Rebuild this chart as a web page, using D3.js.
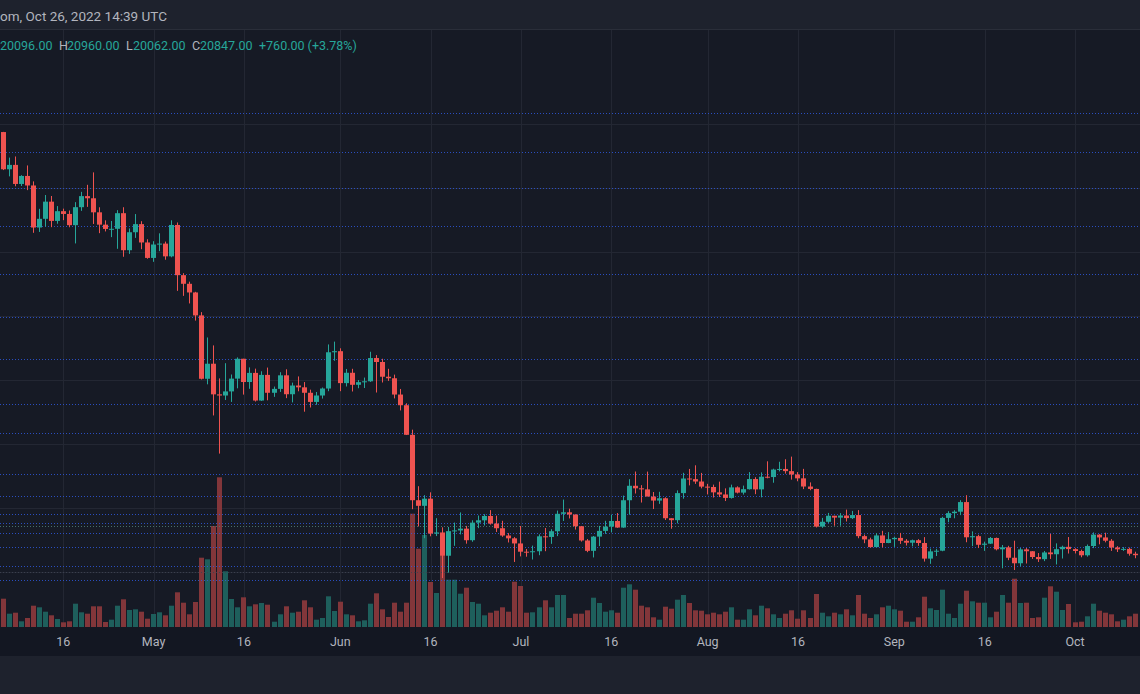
<!DOCTYPE html>
<html><head><meta charset="utf-8">
<script src="https://cdn.jsdelivr.net/npm/d3@7"></script>
<style>html,body{margin:0;padding:0;background:#161a25;overflow:hidden}text{font-family:Roboto,"Liberation Sans",sans-serif}</style>
</head><body><svg id="chart" width="1140" height="694"></svg>
<script>
// ---------------- DATA (BTC daily, 2022-04-06 .. 2022-10-11) ----------------
const firstDay = "2022-04-06";
const opens = [
 45497,43170,43444,42252,42753,42158,39530,40074,41147,39942,40551,40378,39678,40801,41493,41358,40480,39709,39441,39450,40426,38112,39235,39742,38596,
 37630,38468,38525,37728,39690,36552,36013,35472,34038,30076,31017,29103,29030,29287,30086,31328,29874,30444,28715,30319,29201,29445,30293,29110,29655,29542,29201,28630,29031,29468,31734,
 31801,29805,30452,29700,29865,29919,31373,31125,30204,30109,29091,28424,26574,22487,22136,22583,20401,20471,19017,20553,20599,20710,19987,21085,21231,21502,21027,20735,20280,20104,
 19785,19269,19243,19297,20231,20190,20548,21637,21731,21592,20860,19970,19323,20212,20569,20836,21190,20779,22485,23389,23231,23164,22714,22465,22609,21361,21239,22930,23843,23804,23656,
 23336,23314,22978,22846,22630,23289,22961,23175,23810,23164,23954,23934,24403,24441,24305,24094,23854,23342,23191,20834,21140,21515,21399,21528,21368,21559,20241,20037,19555,20285,19812,
 20050,20131,19951,19831,19986,19812,18837,19290,19329,21381,21680,21769,22370,20170,20240,19701,19772,20127,19419,19544,18891,18547,19413,19297,18937,18802,19222,19110,19426,19573,
 19431,19312,19044,19623,20336,20160,19955,19531,19417,19446,19141
];
const highs = [
 45507,43900,43970,42800,43410,42414,40699,41561,41500,40870,40709,40595,41116,41760,42199,42976,40795,39980,39940,40616,40797,39474,40372,39925,38795,
 38675,39167,38651,39980,39845,36675,36146,35510,34243,32658,32162,30100,31050,30343,31414,31328,30788,30709,30545,30777,29589,30487,30670,29835,30223,29872,29397,29250,29530,32222,32399,
 31982,30690,30700,29998,30152,31765,31557,31327,30700,30336,29440,28544,26895,23362,22800,22980,21365,20792,20815,21090,21723,20880,21233,21530,21614,21868,21520,21200,20432,20180,
 20876,19438,19650,20354,20750,20675,21838,22527,21956,21600,20878,20060,20250,20880,21200,21588,21685,22777,23800,24280,23427,24276,23000,23014,22667,21361,23100,24200,24442,24668,24194,
 23509,23460,23647,23227,23460,23354,23400,24245,23925,24226,24918,24456,24890,25047,25211,24247,24446,23600,23208,21382,21692,21515,21680,21900,21819,21868,20341,20147,20433,20575,20490,
 20208,20444,20054,20029,20055,20180,19464,19450,21450,21800,21860,22488,22799,20540,20330,19897,20190,20152,19686,19636,19956,19500,19500,19310,19185,19315,20385,19790,19645,20185,
 19485,19395,19719,20475,20365,20456,20058,19615,19558,19525,19268
];
const lows = [
 43121,42727,42107,42125,41868,39200,39254,39588,39551,39766,39991,39546,38536,40571,40820,39751,39177,39285,38929,38200,37702,37881,38881,38175,37578,
 37386,38052,37517,37670,35571,35258,34785,33713,30033,29730,27785,25400,28751,28630,29480,29087,29450,28654,28691,28730,28947,29255,28866,28600,29294,28019,28282,28450,28839,29299,31200,
 29301,29594,29282,29485,29500,29880,29218,29844,29944,28850,28099,26560,21925,20846,20111,20232,20246,17622,17960,19637,20348,19770,19890,20740,20906,20960,20500,20200,19846,18626,
 18975,18955,18781,19050,19300,19760,20243,21189,21348,20652,19900,19240,18910,19620,20382,20475,20760,20762,21582,22906,22341,22906,21934,22257,21250,20706,21042,22582,23414,23506,23227,
 22850,22654,22683,22435,22586,22910,22839,23154,22865,22664,23854,23579,24289,24150,23773,23671,23180,23111,20783,20761,21066,20890,20890,21156,21310,20109,19800,19520,19550,19540,19800,
 19565,19754,19655,19601,19636,18650,18510,19000,19297,21110,21357,21555,19860,19617,19497,19320,19749,19350,18232,18740,18125,18355,18531,18817,18626,18680,18816,18471,18843,19155,
 19160,18920,18959,19493,19730,19853,19320,19250,19320,19020,18860
];
const closes = [
 43170,43444,42252,42753,42158,39530,40074,41147,39942,40551,40378,39678,40801,41493,41358,40480,39709,39441,39450,40426,38112,39235,39742,38596,37630,
 38468,38525,37728,39690,36552,36013,35472,34038,30076,31017,29103,29030,29287,30086,31328,29874,30444,28715,30319,29201,29445,30293,29110,29655,29542,29201,28630,29031,29468,31734,31801,
 29805,30452,29700,29865,29919,31373,31125,30204,30109,29091,28424,26574,22487,22136,22583,20401,20471,19017,20553,20599,20710,19987,21085,21231,21502,21027,20735,20280,20104,19785,
 19269,19243,19297,20231,20190,20548,21637,21731,21592,20860,19970,19323,20212,20569,20836,21190,20779,22485,23389,23231,23164,22714,22465,22609,21361,21239,22930,23843,23804,23656,23336,
 23314,22978,22846,22630,23289,22961,23175,23810,23164,23954,23934,24403,24441,24305,24094,23854,23342,23191,20834,21140,21515,21399,21528,21368,21559,20241,20037,19555,20285,19812,20050,
 20131,19951,19831,19986,19812,18837,19290,19329,21381,21680,21769,22370,20170,20240,19701,19772,20127,19419,19544,18891,18547,19413,19297,18937,18802,19222,19110,19426,19573,19431,
 19312,19044,19623,20336,20160,19955,19531,19417,19446,19141,19051
];
// volume (relative units)
const volumes = [
 28.3,13.3,14.3,5.7,9,21.3,19.7,15.3,11.7,8,4.7,5.7,23.3,14.7,13.3,20.7,20.7,5,7.3,21.3,27.7,17,17.7,15.3,8.3,
 13,14.7,11.7,21.3,34.7,24.3,12.7,25,69.3,67.7,101,149.7,55.7,28,19.7,29.7,20.7,22.7,24,22.3,5.3,12.7,20.7,14.3,15.3,26.7,19.7,7.3,9,30.7,16,
 25.3,12.7,11.7,5.7,6.7,23.3,33.7,17.7,10,24.3,15.3,24.3,113.3,78.3,92,45,34,71.7,47.3,47.3,33.3,39.3,25,23.3,11.7,14.3,16.3,19.7,15.3,45.3,
 41,14.3,14.7,19.7,26.7,19.7,32,32,9,13.3,13.3,16.7,29.3,24,15.3,16.7,14.3,39.3,42.7,37.3,21.3,19.7,9.7,7.3,20.3,18.3,27.3,32,24,16.7,16.3,
 12.7,14.3,12.7,15.3,19.7,7.3,7.3,17.7,11.7,21.3,18.7,12.7,9,13.3,16.7,8.3,16.7,9,33,14.3,10.7,14.3,12.7,17.7,11.7,32,13.3,9,12.7,19.7,21.3,
 17.7,16.3,5.3,5.3,9.7,30.3,18.7,17,37.3,13.3,9,23.3,36.3,25.7,24.3,24.3,9.7,15.3,32,24.3,48.3,24,24.3,9,9.7,29.3,40.7,35.3,17,23,
 4.7,5.3,10.7,23.3,16.3,14.3,12.7,5.7,7.3,10.7,13.3
];
// horizontal drawn levels
const blueLevels = [46688,44250,42000,39625,36606,33938,31312,28500,26669,24125,22719,21625,21081,20419,19563,18394,17500];
const tealLevels = [20906];
const greyLevels = [17969];
const gridPrices = [18000,22000,26000,30000,34000,38000,42000,46000];
const tickDates = ["2022-04-16","2022-05-01","2022-05-16","2022-06-01","2022-06-16","2022-07-01","2022-07-16","2022-08-01","2022-08-16","2022-09-01","2022-09-16","2022-10-01"];
const tickLabels = ["16","May","16","Jun","16","Jul","16","Aug","16","Sep","16","Oct"];
const headerLine1 = "om, Oct 26, 2022 14:39 UTC";
const legendParts = [["","20096.00"],["H","20960.00"],["L","20062.00"],["C","20847.00"],["","+760.00 (+3.78%)"]];

// ---------------- DRAW ----------------
const W = 1140, H = 694;
const paneTop = 29, paneBottom = 627;
const UP = "#26a69a", DOWN = "#ef5350";
const svg = d3.select("#chart");

const parse = d3.utcParse("%Y-%m-%d");
const day0 = parse(firstDay);
const dates = closes.map((_, i) => d3.utcDay.offset(day0, i));

const x = d3.scaleUtc().domain([parse("2022-04-06"), parse("2022-10-01")]).range([3, 1075]);
const y = d3.scaleLinear().domain([18000, 46000]).range([572, 124]);
const v = d3.scaleLinear().domain([0, 150]).range([paneBottom, paneBottom - 150]);

// backgrounds
svg.append("rect").attr("x",0).attr("y",0).attr("width",W).attr("height",H).attr("fill","#161a25");
svg.append("rect").attr("x",0).attr("y",0).attr("width",W).attr("height",paneTop).attr("fill","#1e222d");
svg.append("line").attr("x1",0).attr("x2",W).attr("y1",paneTop+0.5).attr("y2",paneTop+0.5).attr("stroke","#2a2e39");
svg.append("rect").attr("x",0).attr("y",paneBottom).attr("width",W).attr("height",29).attr("fill","#131722");
svg.append("rect").attr("x",0).attr("y",656).attr("width",W).attr("height",H-656).attr("fill","#1e222d");

const pane = svg.append("g");
// grid
pane.selectAll("line.vg").data(tickDates).join("line")
  .attr("x1", d => Math.round(x(parse(d))) + 0.5).attr("x2", d => Math.round(x(parse(d))) + 0.5)
  .attr("y1", paneTop + 1).attr("y2", paneBottom)
  .attr("stroke", "#232733").attr("stroke-width", 1);
pane.selectAll("line.hg").data(gridPrices).join("line")
  .attr("x1", 0).attr("x2", W)
  .attr("y1", d => Math.round(y(d)) + 0.5).attr("y2", d => Math.round(y(d)) + 0.5)
  .attr("stroke", "#232733").attr("stroke-width", 1);

const bw = 5;
const left = i => Math.round(x(dates[i]) - bw / 2);

// volume
pane.selectAll("rect.vol").data(volumes).join("rect")
  .attr("x", (d, i) => left(i))
  .attr("width", bw)
  .attr("y", d => v(d))
  .attr("height", d => paneBottom - v(d))
  .attr("fill", (d, i) => closes[i] >= opens[i] ? "#1e5f5c" : "#82363a");

// level lines
function levels(arr, color, op) {
  pane.append("g").selectAll("line").data(arr).join("line")
    .attr("x1", 0).attr("x2", W)
    .attr("y1", d => Math.round(y(d)) + 0.5).attr("y2", d => Math.round(y(d)) + 0.5)
    .attr("stroke", color).attr("stroke-opacity", op).attr("stroke-width", 1)
    .attr("stroke-dasharray", "1 2");
}
levels(blueLevels, "#2f5be6", 0.8);
levels(tealLevels, "#4c7a72", 0.9);
levels(greyLevels, "#3d4250", 0.9);

// candles
const cg = pane.append("g");
cg.selectAll("line.wick").data(closes).join("line")
  .attr("x1", (d, i) => left(i) + 2.5).attr("x2", (d, i) => left(i) + 2.5)
  .attr("y1", (d, i) => y(highs[i])).attr("y2", (d, i) => y(lows[i]))
  .attr("stroke", (d, i) => closes[i] >= opens[i] ? UP : DOWN).attr("stroke-width", 1);
cg.selectAll("rect.body").data(closes).join("rect")
  .attr("x", (d, i) => left(i)).attr("width", bw)
  .attr("y", (d, i) => Math.min(y(opens[i]), y(closes[i])))
  .attr("height", (d, i) => Math.max(1, Math.abs(y(opens[i]) - y(closes[i]))))
  .attr("fill", (d, i) => closes[i] >= opens[i] ? UP : DOWN);

// time axis labels
svg.append("g").selectAll("text").data(tickDates).join("text")
  .attr("x", d => x(parse(d))).attr("y", 646)
  .attr("text-anchor", "middle").attr("font-size", "12.5px").attr("fill", "#b2b5be")
  .text((d, i) => tickLabels[i]);

// header
svg.append("text").attr("x", 0).attr("y", 20.5).attr("font-size", "13.5px").attr("fill", "#b2b5be").text(headerLine1);
const legendX = [[0, 0], [59, 67], [126, 133], [192, 200], [0, 259]];
const lg = svg.append("g").attr("font-size", "12.5px");
legendParts.forEach((p, i) => {
  if (p[0]) lg.append("text").attr("x", legendX[i][0]).attr("y", 49.5).attr("fill", "#b2b5be").text(p[0]);
  lg.append("text").attr("x", legendX[i][1]).attr("y", 49.5).attr("fill", UP).text(p[1]);
});
</script></body></html>
